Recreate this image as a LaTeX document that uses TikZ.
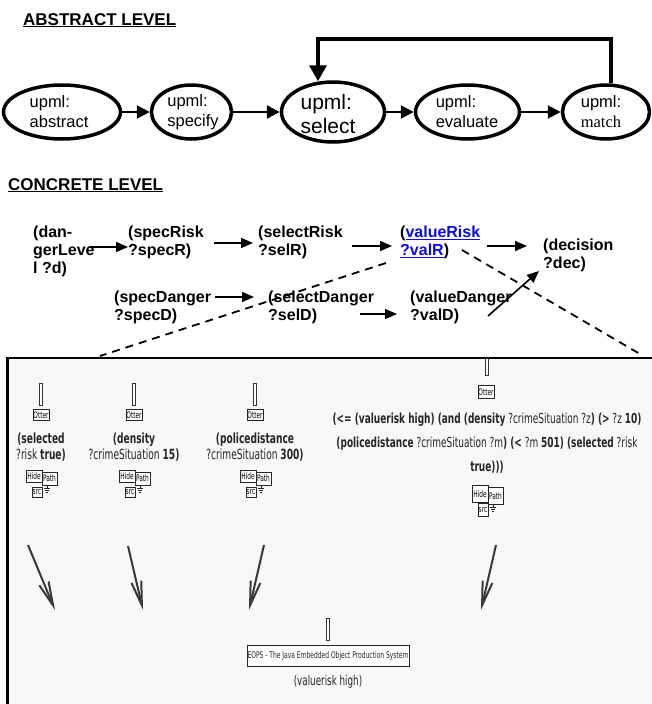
\documentclass[tikz,border=0pt]{standalone}
\usepackage{fontspec}
\setmainfont{Liberation Sans}
\newfontfamily\seriffam{Liberation Serif}
\newfontfamily\boxfont[FakeStretch=0.65]{DejaVu Sans}
\usetikzlibrary{arrows.meta,shapes.geometric}
\definecolor{linkblue}{RGB}{10,10,235}
\definecolor{panelbg}{RGB}{248,248,248}
\tikzset{
  ell/.style={ellipse, draw, line width=3.5pt, inner sep=0pt, minimum height=54pt},
  etext/.style={align=left, inner sep=0pt, font=\fontsize{16.5}{20}\selectfont},
  earrow/.style={-{Triangle[length=13pt,width=13pt]}, line width=2.5pt},
  loopline/.style={-{Triangle[length=16pt,width=17pt]}, line width=3.5pt},
  heading/.style={anchor=base west, inner sep=0pt, font=\bfseries\fontsize{17}{20}\selectfont},
  ctext/.style={align=left, anchor=north west, inner sep=0pt, font=\bfseries\fontsize{16}{18}\selectfont},
  carrow/.style={-{Triangle[length=12pt,width=10pt]}, line width=1.6pt},
  dline/.style={dash pattern=on 8pt off 6pt, line width=1.8pt},
  handle/.style={draw=black!80, fill=white, line width=0.7pt, minimum width=3.5pt, minimum height=22pt, inner sep=0pt},
  tinybox/.style={draw=black!85, fill=white, line width=0.6pt, inner sep=0pt, font=\boxfont\fontsize{9}{9}\selectfont},
  btext/.style={align=center, anchor=north, inner sep=0pt, text=black!85, font=\boxfont\fontsize{14}{16}\selectfont},
  bigarrow/.style={-{Straight Barb[length=24pt,width=10pt]}, line width=2pt, draw=black!78},
  gnd/.style={line width=0.6pt, draw=black!85},
}
\begin{document}
\begin{tikzpicture}[x=1pt,y=-1pt]
\useasboundingbox (0,0) rectangle (652,704);

% ---------------- abstract level ----------------
\node[heading] (abshead) at (23,25) {\underline{ABSTRACT LEVEL}};

\node[ell, minimum width=117pt] (e1) at (62,112) {};
\node[ell, minimum width=80pt]  (e2) at (191.5,112) {};
\node[ell, minimum width=103pt, minimum height=60pt] (e3) at (333,112) {};
\node[ell, minimum width=104pt] (e4) at (467.5,112) {};
\node[ell, minimum width=87pt]  (e5) at (606,112) {};

\node[etext] (t1) at (59,112) {upml:\\abstract};
\node[etext] (t2) at (193,112) {upml:\\specify};
\node[etext, font=\fontsize{21}{24}\selectfont] (t3) at (328,114) {upml:\\select};
\node[etext] (t4) at (467,112) {upml:\\evaluate};
\node[etext] (t5) at (601,112) {upml:\\{\seriffam match}};

\draw[earrow] (e1.east) -- (e2.west);
\draw[earrow] (e2.east) -- (e3.west);
\draw[earrow] (e3.east) -- (e4.west);
\draw[earrow, line width=2pt] (e4.east) -- (e5.west);

\coordinate (lpa) at ([xshift=5pt]e5.north);
\coordinate (lpb) at ([xshift=-15pt,yshift=-1pt]e3.north);
\draw[loopline] (lpa) -- (lpa |- 0,39) -| (lpb);

% ---------------- concrete level ----------------
\node[heading] (conhead) at (8,190) {\underline{CONCRETE LEVEL}};

\node[ctext] (dan)  at (33,225.5)  {(dan-\\gerLeve\\l ?d)};
\node[ctext] (spR)  at (128,225.5) {(specRisk\\?specR)};
\node[ctext] (seR)  at (258,225.5) {(selectRisk\\?selR)};
\node[ctext] (vaR)  at (400,225.5) {(\textcolor{linkblue}{\underline{valueRisk}}\\\textcolor{linkblue}{\underline{?valR}})};
\node[ctext] (dec)  at (543,238.5) {(decision\\?dec)};
\node[ctext] (spD)  at (114,290.5) {(specDanger\\?specD)};
\node[ctext] (seD)  at (268,290.5) {(selectDanger\\?selD)};
\node[ctext] (vaD)  at (410,290.5) {(valueDanger\\?valD)};

\coordinate (a1s) at (89,247);  \coordinate (a1e) at (128,247);
\coordinate (a2s) at (214,243); \coordinate (a2e) at (253,243);
\coordinate (a3s) at (352,246); \coordinate (a3e) at (392,246);
\coordinate (a4s) at (487,246); \coordinate (a4e) at (527,246);
\coordinate (a5s) at (215,297); \coordinate (a5e) at (254,297);
\coordinate (a6s) at (360,314); \coordinate (a6e) at (397,314);
\coordinate (a7s) at (488,316); \coordinate (a7e) at (539,271);
\draw[carrow] (a1s) -- (a1e);
\draw[carrow] (a2s) -- (a2e);
\draw[carrow] (a3s) -- (a3e);
\draw[carrow] (a4s) -- (a4e);
\draw[carrow] (a5s) -- (a5e);
\draw[carrow] (a6s) -- (a6e);
\draw[carrow] (a7s) -- (a7e);

% ---------------- panel ----------------
\fill[panelbg] (7,358) rectangle (652,704);
\draw[line width=3pt] (7,704) -- (7,358);
\draw[line width=1.8pt] (5.5,358) -- (652,358);

\coordinate (dl1) at (386,263);
\coordinate (dl2) at (100,356);
\coordinate (dr1) at (462,250);
\coordinate (dr2) at (640,354);
\draw[dline] (dl1) -- (dl2);
\draw[dline] (dr1) -- (dr2);

% columns 1-3
\foreach \i/\cx in {1/41,2/134,3/255}{
  \node[handle] (h\i) at (\cx,394) {};
  \node[tinybox, minimum width=16pt, minimum height=11pt] (o\i) at (\cx,415) {Otter};
  \node[tinybox, minimum width=16pt, minimum height=12pt] (hd\i) at (\cx-7,476) {Hide};
  \node[tinybox, minimum width=15pt, minimum height=13pt] (pt\i) at (\cx+8.5,478.5) {Path};
  \node[tinybox, minimum width=10pt, minimum height=10pt] (sr\i) at (\cx-4,492) {src};
  \draw[gnd] (\cx+6,485) -- (\cx+6,488);
  \draw[gnd] (\cx+3,488) -- (\cx+9,488);
  \draw[gnd] (\cx+4,490) -- (\cx+8,490);
  \draw[gnd] (\cx+5,492) -- (\cx+7,492);
}
\node[btext] (c1) at (41,433) {\textbf{(selected}\\?risk \textbf{true)}};
\node[btext] (c2) at (134,433) {\textbf{(density}\\?crimeSituation \textbf{15)}};
\node[btext] (c3) at (255,433) {\textbf{(policedistance}\\?crimeSituation \textbf{300)}};

% column 4
\node[handle, minimum height=17pt] (h4) at (487,366.5) {};
\node[tinybox, minimum width=16pt, minimum height=13pt] (o4) at (486,392) {Otter};
\node[btext, font=\boxfont\fontsize{13.8}{24}\selectfont] (c4) at (487,413)
  {\textbf{(<= (valuerisk high) (and (density} ?crimeSituation ?z\textbf{) (>} ?z \textbf{10)}\\
   \textbf{(policedistance} ?crimeSituation ?m\textbf{) (<} ?m \textbf{501) (selected} ?risk\\
   \textbf{true)))}};
\node[tinybox, minimum width=16pt, minimum height=17pt] (hd4) at (480,494) {Hide};
\node[tinybox, minimum width=15pt, minimum height=17pt] (pt4) at (495.5,496) {Path};
\node[tinybox, minimum width=10pt, minimum height=13pt] (sr4) at (483,510) {src};
\draw[gnd] (493,504) -- (493,507);
\draw[gnd] (490,507) -- (496,507);
\draw[gnd] (491,509) -- (495,509);
\draw[gnd] (492,511) -- (494,511);

% big arrows
\coordinate (b1s) at (28,545);  \coordinate (b1e) at (55,610);
\coordinate (b2s) at (128,546); \coordinate (b2e) at (143,610);
\coordinate (b3s) at (264,545); \coordinate (b3e) at (249,610);
\coordinate (b4s) at (496,545); \coordinate (b4e) at (481,610);
\draw[bigarrow] (b1s) -- (b1e);
\draw[bigarrow] (b2s) -- (b2e);
\draw[bigarrow] (b3s) -- (b3e);
\draw[bigarrow] (b4s) -- (b4e);

% EOPS
\node[handle] (eh) at (328,629) {};
\node[draw=black!85, fill=white, line width=0.8pt, minimum width=162pt, minimum height=21pt, inner sep=0pt,
      font=\boxfont\fontsize{9.2}{11}\selectfont, text=black!85] (eops) at (328,656)
  {EOPS - The Java Embedded Object Production System};
\node[btext, anchor=center, font=\boxfont\fontsize{13.5}{16}\selectfont] (vh) at (328,682) {(valuerisk high)};
\end{tikzpicture}
\end{document}
